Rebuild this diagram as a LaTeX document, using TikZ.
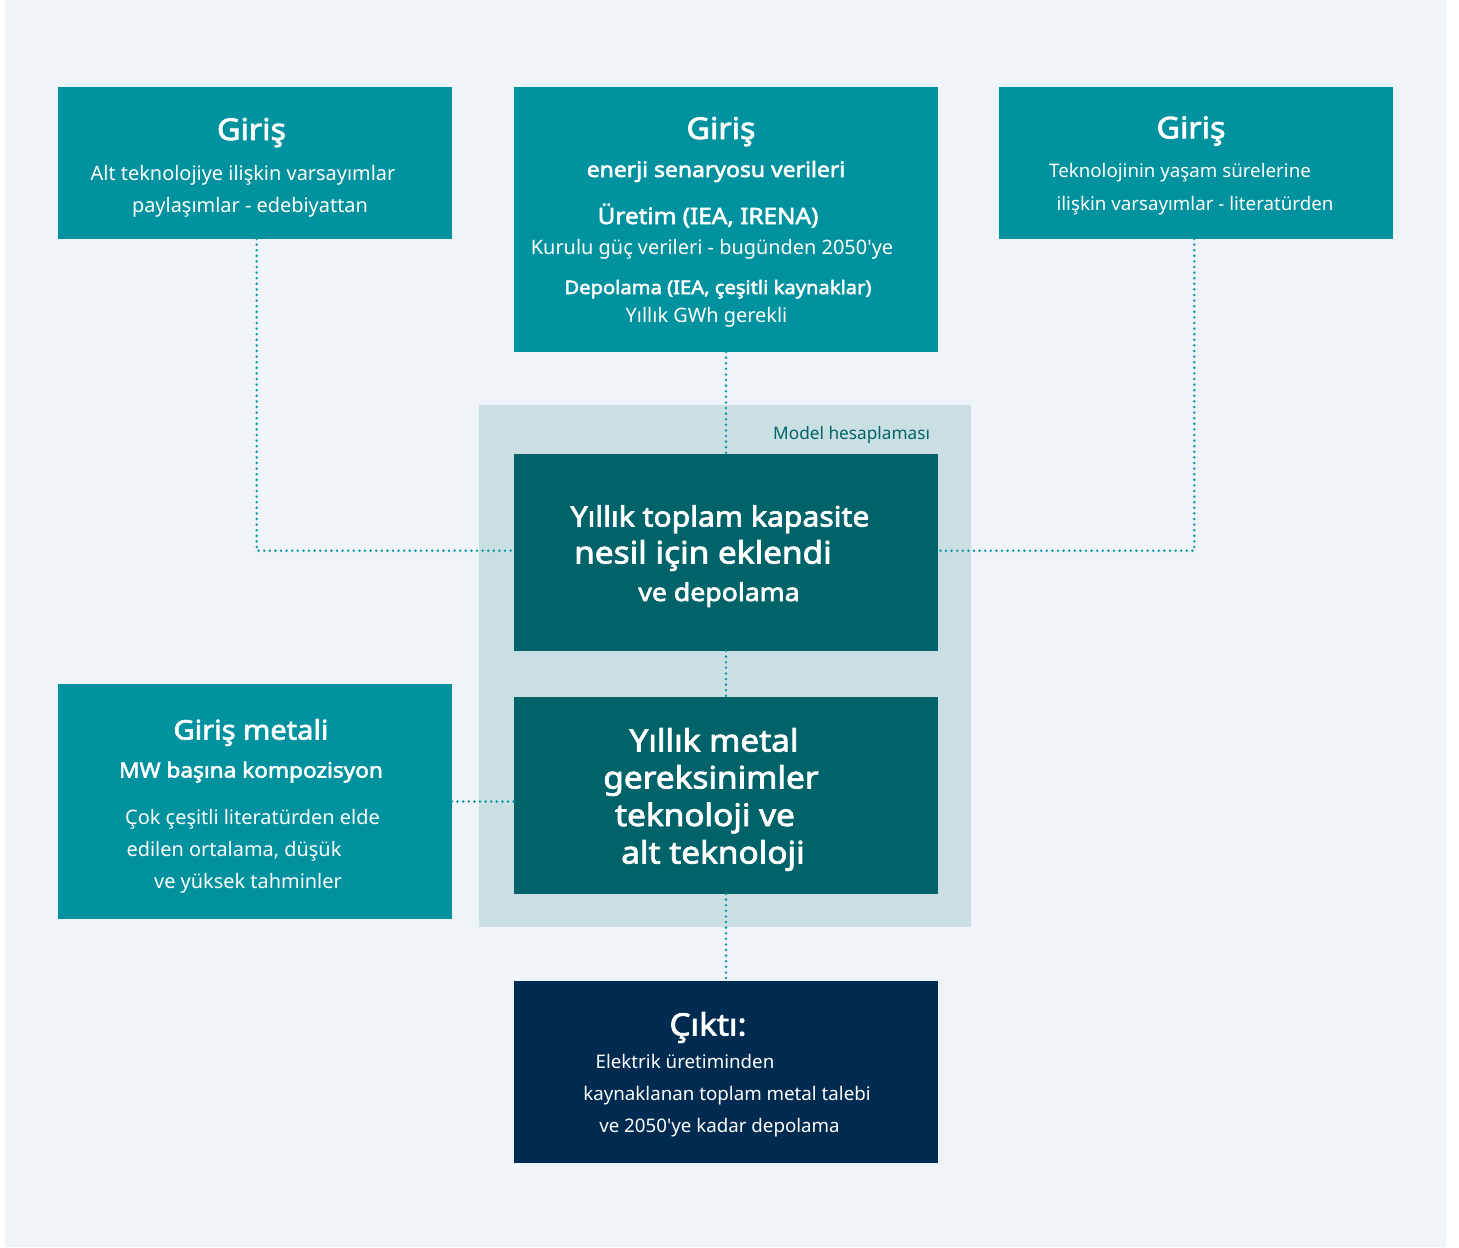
\documentclass[tikz,border=0pt]{standalone}
\usepackage{fontspec}
\setmainfont{Noto Sans}[Ligatures=TeXOff,BoldFont={Noto Sans},BoldFeatures={FakeBold=2.6,FakeStretch=1.08}]
\definecolor{pagebg}{HTML}{EEF4F7}
\definecolor{cteal}{HTML}{00929F}
\definecolor{cdark}{HTML}{006369}
\definecolor{cnavy}{HTML}{002B50}
\definecolor{cmodel}{HTML}{C9DFE3}
\definecolor{cdot}{HTML}{119AA5}
\definecolor{cmodeltxt}{HTML}{00646A}
\tikzset{
  boxnode/.style={rectangle, draw=none, inner sep=0pt, outer sep=0pt},
  txt/.style={anchor=base, inner sep=0pt, outer sep=0pt, text=white},
  ttl/.style={txt, font=\fontsize{30}{36}\selectfont\bfseries},
  bodytxt/.style={txt, font=\fontsize{20}{24}\selectfont},
  smalltxt/.style={txt, font=\fontsize{18.8}{23}\selectfont},
  bigtxt/.style={txt, font=\fontsize{28}{34}\selectfont\bfseries},
  hugetxt/.style={txt, font=\fontsize{31}{36}\selectfont\bfseries},
  dotline/.style={cdot, line width=2.8bp, line cap=round, dash pattern=on 0pt off 5.6bp}
}
\begin{document}
\begin{tikzpicture}[x=1bp,y=-1bp]
\useasboundingbox (0,0) rectangle (1459,1247);
\fill[pagebg] (5,0) rectangle (1446,1247);
% model area
\node[boxnode, fill=cmodel, minimum width=492bp, minimum height=522bp] (model) at (725,666) {};
% boxes
\node[boxnode, fill=cteal, minimum width=394bp, minimum height=152bp] (inL) at (255,163) {};
\node[boxnode, fill=cteal, minimum width=424bp, minimum height=265bp] (inM) at (726,219.5) {};
\node[boxnode, fill=cteal, minimum width=394bp, minimum height=152bp] (inR) at (1196,163) {};
\node[boxnode, fill=cdark, minimum width=424bp, minimum height=197bp] (capA) at (726,552.5) {};
\node[boxnode, fill=cdark, minimum width=424bp, minimum height=197bp] (metB) at (726,795.5) {};
\node[boxnode, fill=cteal, minimum width=394bp, minimum height=235bp] (metL) at (255,801.5) {};
\node[boxnode, fill=cnavy, minimum width=424bp, minimum height=182bp] (out) at (726,1072) {};
% connectors
\draw[dotline] ([xshift=1.7bp]inL.south) |- ([yshift=1.8bp]capA.west);
\draw[dotline] ([xshift=-1.7bp]inR.south) |- ([yshift=1.8bp]capA.east);
\draw[dotline] (inM.south) -- (capA.north);
\draw[dotline] (capA.south) -- (metB.north);
\draw[dotline] (metL.east) -- (metL.east -| metB.west);
\draw[dotline] (metB.south) -- (out.north);
% model label
\node[txt, anchor=base east, text=cmodeltxt, font=\fontsize{17.3}{21}\selectfont] (mlbl) at (930,439) {Model hesaplaması};
% left input texts
\node[ttl] (tL1) at (251.5,140) {Giriş};
\node[bodytxt] (tL2) at (243,180.5) {Alt teknolojiye ilişkin varsayımlar};
\node[bodytxt] (tL3) at (250,212.5) {paylaşımlar - edebiyattan};
% middle input texts
\node[ttl] (tM1) at (721,139) {Giriş};
\node[txt, font=\fontsize{21.3}{25}\selectfont\bfseries] (tM2) at (716,177) {enerji senaryosu verileri};
\node[txt, font=\fontsize{22.6}{27}\selectfont\bfseries] (tM3) at (708,224) {Üretim (IEA, IRENA)};
\node[bodytxt] (tM4) at (712,254) {Kurulu güç verileri - bugünden 2050'ye};
\node[txt, font=\fontsize{18.75}{23}\selectfont\bfseries] (tM5) at (718,294) {Depolama (IEA, çeşitli kaynaklar)};
\node[bodytxt] (tM6) at (706.5,322.5) {Yıllık GWh gerekli};
% right input texts
\node[ttl] (tR1) at (1191,138.3) {Giriş};
\node[smalltxt] (tR2) at (1180,177.3) {Teknolojinin yaşam sürelerine};
\node[smalltxt] (tR3) at (1195,210) {ilişkin varsayımlar - literatürden};
% capacity box
\node[bigtxt] (tA1) at (720,526.5) {Yıllık toplam kapasite};
\node[txt, font=\fontsize{31}{36}\selectfont\bfseries] (tA2) at (703,563.5) {nesil için eklendi};
\node[txt, font=\fontsize{24.8}{29}\selectfont\bfseries] (tA3) at (719,601) {ve depolama};
% metal box
\node[hugetxt] (tB1) at (714,751.5) {Yıllık metal};
\node[hugetxt] (tB2) at (711,788.5) {gereksinimler};
\node[hugetxt] (tB3) at (705,826) {teknoloji ve};
\node[hugetxt] (tB4) at (713,863.5) {alt teknoloji};
% left metal input
\node[txt, font=\fontsize{27}{32}\selectfont\bfseries] (tC1) at (251,739.5) {Giriş metali};
\node[txt, font=\fontsize{21}{25}\selectfont\bfseries] (tC2) at (251,777.5) {MW başına kompozisyon};
\node[bodytxt] (tC3) at (252.5,824.5) {Çok çeşitli literatürden elde};
\node[bodytxt] (tC4) at (234,856) {edilen ortalama, düşük};
\node[bodytxt] (tC5) at (248,888.5) {ve yüksek tahminler};
% output
\node[txt, font=\fontsize{31}{36}\selectfont\bfseries] (tO1) at (708,1035.5) {Çıktı:};
\node[smalltxt] (tO2) at (685,1068.5) {Elektrik üretiminden};
\node[smalltxt] (tO3) at (727,1100.5) {kaynaklanan toplam metal talebi};
\node[smalltxt] (tO4) at (719.5,1132.5) {ve 2050'ye kadar depolama};
\end{tikzpicture}
\end{document}
